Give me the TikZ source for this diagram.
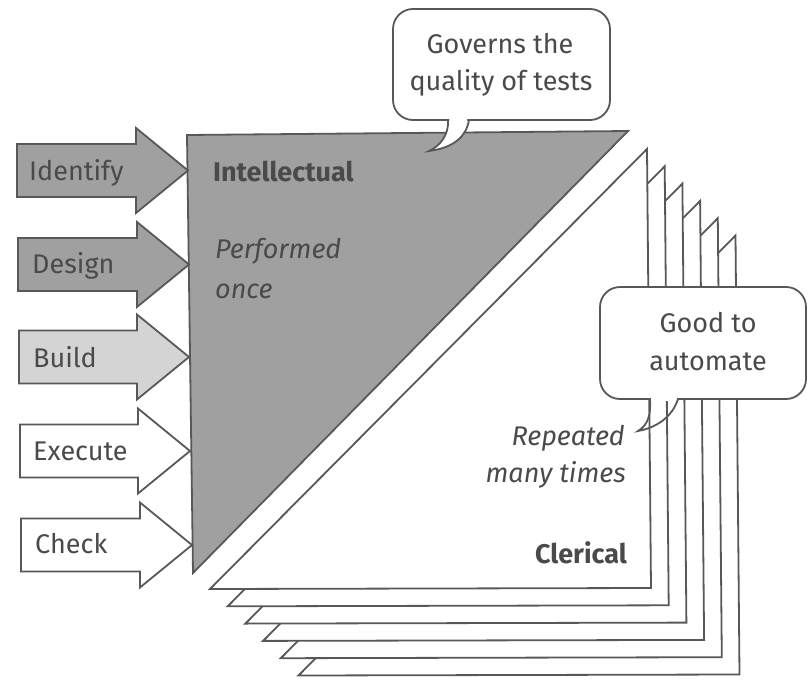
\documentclass[tikz,border=0pt]{standalone}
\usepackage{fontspec}
\setmainfont{Fira Sans}
\definecolor{ink}{HTML}{4A4A4A}
\definecolor{edge}{HTML}{585858}
\definecolor{darkfill}{HTML}{A0A0A0}
\definecolor{lightfill}{HTML}{D4D4D4}
\begin{document}
\begin{tikzpicture}[x=1pt,y=-1pt,
  lbl/.style={inner sep=0pt, text=ink, font=\fontsize{27}{36}\selectfont},
  shapeline/.style={draw=edge, line width=1.8pt, line join=miter},
  ]
\useasboundingbox (0,0) rectangle (809,680);
% stacked clerical triangles (back to front)
\foreach \i in {5,4,...,0} {
  \filldraw[shapeline, fill=white] (647+17.7*\i,149+17.3*\i) -- (651+17.7*\i,588+17.3*\i) -- (210+17.7*\i,589+17.3*\i) -- cycle;
}
% intellectual triangle
\filldraw[shapeline, fill=darkfill] (187,135) -- (628,131) -- (193,573) -- cycle;
% block arrows
\foreach \L/\C/\T/\f in {17/170.5/188/darkfill, 18/264.5/189/darkfill, 19/357/189/lightfill, 20/451/190/white, 21/545/192/white} {
  \filldraw[shapeline, fill=\f] (\L,\C-26.5) -- (\T-52,\C-26.5) -- (\T-52,\C-42.5) -- (\T,\C) -- (\T-52,\C+42.5) -- (\T-52,\C+26.5) -- (\L,\C+26.5) -- cycle;
}
% callout 1
\filldraw[shapeline, fill=white, rounded corners=20] (393,9) rectangle (610,120);
\fill[white] (449.5,117) -- (467.5,117) .. controls (466,138) and (452,148) .. (429,151) .. controls (440,146) and (449,135) .. cycle;
\draw[shapeline] (448,120) .. controls (449,135) and (440,146) .. (429,151) .. controls (452,148) and (466,138) .. (469,120);
% callout 2
\filldraw[shapeline, fill=white, rounded corners=20] (600,287) rectangle (806,399);
\fill[white] (651,396) rectangle (677,401);
\draw[shapeline] (650,399) .. controls (651,415) and (648,425) .. (638,431) .. controls (655,428) and (672,418) .. (678,399);
% labels
\node[lbl, anchor=base west] (identify) at (29,180) {Identify};
\node[lbl, anchor=base west] (design) at (32,273) {Design};
\node[lbl, anchor=base west] (build) at (33,367) {Build};
\node[lbl, anchor=base west] (execute) at (33,460) {Execute};
\node[lbl, anchor=base west] (check) at (35,553) {Check};
\node[lbl, anchor=base west, font=\fontsize{27}{36}\selectfont\bfseries] (intel) at (213,181) {Intellectual};
\node[lbl, anchor=base west, font=\fontsize{27}{36}\selectfont\itshape] (perf) at (215,258) {Performed};
\node[lbl, anchor=base west, font=\fontsize{27}{36}\selectfont\itshape] (once) at (215,298) {once};
\node[lbl, anchor=base east, font=\fontsize{27}{36}\selectfont\itshape] (rep) at (625,445) {Repeated};
\node[lbl, anchor=base east, font=\fontsize{27}{36}\selectfont\itshape] (many) at (626,482) {many times};
\node[lbl, anchor=base east, font=\fontsize{27}{36}\selectfont\bfseries] (cler) at (627,563) {Clerical};
\node[lbl, anchor=base] (gov1) at (500,53) {Governs the};
\node[lbl, anchor=base] (gov2) at (501,90) {quality of tests};
\node[lbl, anchor=base] (good1) at (708,332) {Good to};
\node[lbl, anchor=base] (good2) at (708,370) {automate};
\end{tikzpicture}
\end{document}
